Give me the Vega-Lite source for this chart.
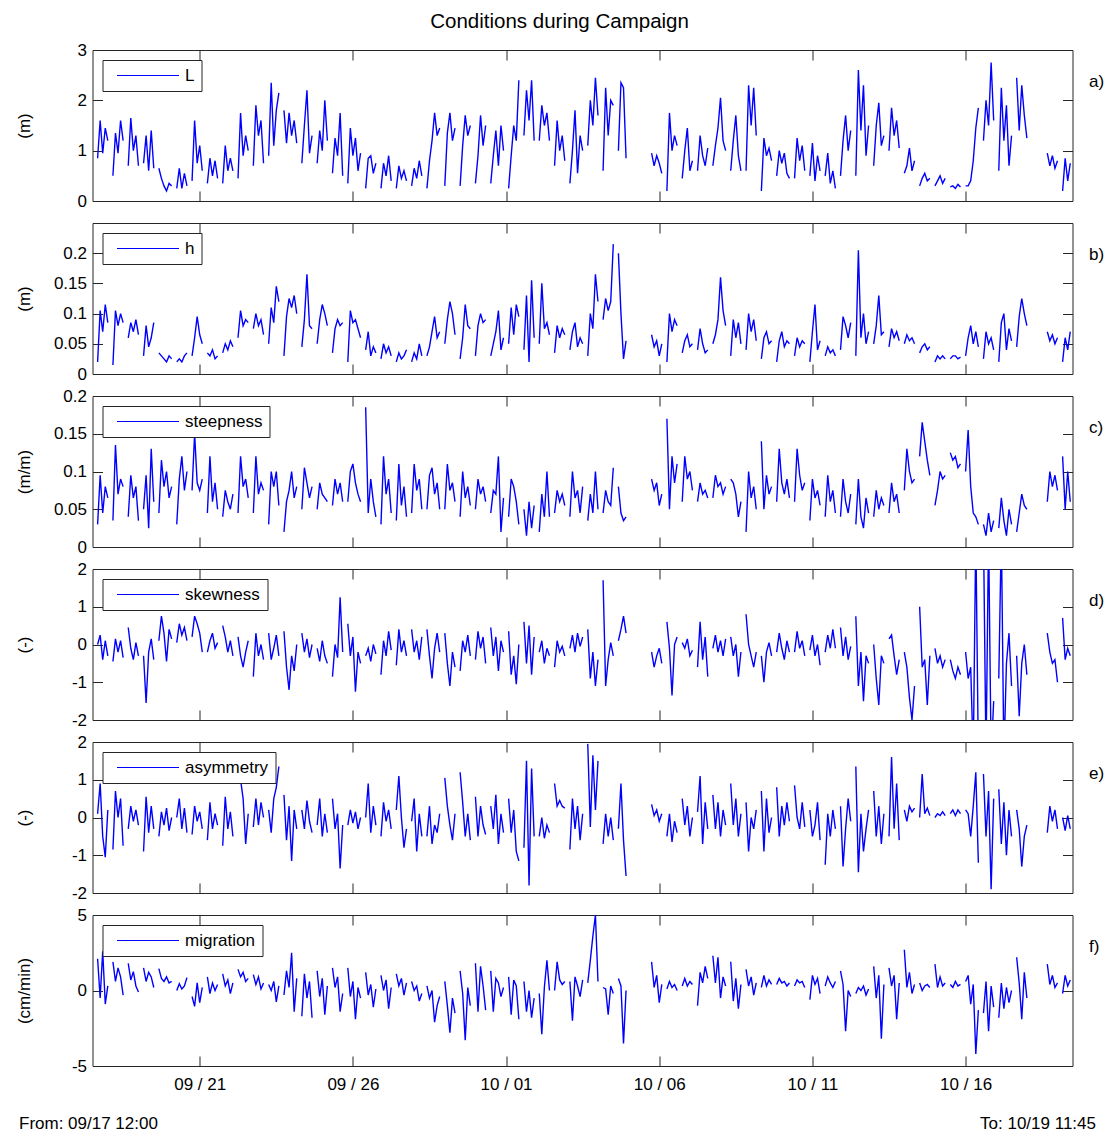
{
  "$schema": "https://vega.github.io/schema/vega-lite/v6.json",
  "background": "white",
  "padding": {"left": 14.5, "top": 12, "right": 8, "bottom": 2},
  "title": {"text": "Conditions during Campaign", "fontSize": 20.5, "fontWeight": "normal", "font": "Liberation Sans", "color": "#000", "anchor": "middle", "offset": 8},
  "datasets": {
    "obs": [
      {"t":"2012-09-17T16:00","L":0.85,"h":0.02,"s":0.03,"k":0,"a":0.1,"m":2.1},
      {"t":"2012-09-17T18:00","L":1.6,"h":0.105,"s":0.095,"k":0.25,"a":0.9,"m":-0.5},
      {"t":"2012-09-17T20:00","L":0.95,"h":0.07,"s":0.045,"k":-0.4,"a":-0.5,"m":2.6},
      {"t":"2012-09-17T22:00","L":1.45,"h":0.115,"s":0.08,"k":0.1,"a":-1.05,"m":-0.9},
      {"t":"2012-09-18T00:00","L":1.2,"h":0.085,"s":0.065,"k":-0.3,"a":0.2,"m":0.3},
      {"t":"2012-09-18T02:00"},
      {"t":"2012-09-18T04:00","L":0.5,"h":0.015,"s":0.035,"k":-0.45,"a":-0.85,"m":1.9},
      {"t":"2012-09-18T06:00","L":1.35,"h":0.105,"s":0.135,"k":0.15,"a":0.7,"m":0.6},
      {"t":"2012-09-18T08:00","L":0.95,"h":0.08,"s":0.07,"k":-0.2,"a":0,"m":1.5},
      {"t":"2012-09-18T10:00","L":1.6,"h":0.1,"s":0.09,"k":0.1,"a":0.5,"m":0.9},
      {"t":"2012-09-18T12:00","L":1.2,"h":0.085,"s":0.08,"k":-0.35,"a":-0.75,"m":-0.3},
      {"t":"2012-09-18T14:00"},
      {"t":"2012-09-18T16:00","L":0.7,"h":0.06,"s":0.04,"k":0.45,"a":-0.3,"m":1.8},
      {"t":"2012-09-18T18:00","L":1.65,"h":0.085,"s":0.095,"k":-0.1,"a":0.3,"m":0.7},
      {"t":"2012-09-18T20:00","L":1.0,"h":0.07,"s":0.065,"k":-0.4,"a":-0.1,"m":1.25},
      {"t":"2012-09-18T22:00","L":1.3,"h":0.09,"s":0.08,"k":0.05,"a":0.2,"m":0.3},
      {"t":"2012-09-19T00:00","L":0.7,"h":0.065,"s":0.035,"k":-0.3,"a":-0.2,"m":-0.1},
      {"t":"2012-09-19T02:00"},
      {"t":"2012-09-19T04:00","L":0.75,"h":0.03,"s":0.05,"k":-0.3,"a":-0.9,"m":1.5},
      {"t":"2012-09-19T06:00","L":1.3,"h":0.08,"s":0.095,"k":-1.55,"a":0.55,"m":0.6},
      {"t":"2012-09-19T08:00","L":0.6,"h":0.045,"s":0.025,"k":-0.2,"a":-0.4,"m":1.2},
      {"t":"2012-09-19T10:00","L":1.4,"h":0.06,"s":0.13,"k":0.15,"a":0.3,"m":0.9},
      {"t":"2012-09-19T12:00","L":0.65,"h":0.085,"s":0.06,"k":-0.4,"a":-0.3,"m":0.2},
      {"t":"2012-09-19T14:00"},
      {"t":"2012-09-19T16:00","L":0.65,"h":0.035,"s":0.045,"k":0.1,"a":-0.5,"m":1.45},
      {"t":"2012-09-19T18:00","L":0.45,"h":0.03,"s":0.115,"k":0.75,"a":0.15,"m":0.8},
      {"t":"2012-09-19T20:00","L":0.3,"h":0.025,"s":0.08,"k":0.3,"a":-0.2,"m":0.6},
      {"t":"2012-09-19T22:00","L":0.2,"h":0.02,"s":0.1,"k":-0.45,"a":0.25,"m":0.9},
      {"t":"2012-09-20T00:00","L":0.35,"h":0.03,"s":0.065,"k":0.4,"a":-0.35,"m":0.5},
      {"t":"2012-09-20T02:00","L":0.3,"h":0.025,"s":0.08,"k":0.15,"a":0,"m":0.6},
      {"t":"2012-09-20T04:00"},
      {"t":"2012-09-20T06:00","L":0.25,"h":0.02,"s":0.03,"k":0.05,"a":0,"m":0},
      {"t":"2012-09-20T08:00","L":0.65,"h":0.025,"s":0.09,"k":0.55,"a":0.5,"m":0.45},
      {"t":"2012-09-20T10:00","L":0.25,"h":0.02,"s":0.12,"k":0.25,"a":-0.3,"m":0.1},
      {"t":"2012-09-20T12:00","L":0.55,"h":0.03,"s":0.075,"k":0.45,"a":0.25,"m":0.3},
      {"t":"2012-09-20T14:00","L":0.3,"h":0.035,"s":0.1,"k":0.1,"a":-0.4,"m":0.85},
      {"t":"2012-09-20T16:00"},
      {"t":"2012-09-20T18:00","L":0.4,"h":0.03,"s":0.075,"k":0.2,"a":-0.45,"m":-0.4},
      {"t":"2012-09-20T20:00","L":1.6,"h":0.06,"s":0.15,"k":0.75,"a":0.3,"m":-1.05},
      {"t":"2012-09-20T22:00","L":0.75,"h":0.095,"s":0.085,"k":0.55,"a":-0.1,"m":0.5},
      {"t":"2012-09-21T00:00","L":1.1,"h":0.065,"s":0.075,"k":0.3,"a":0.15,"m":-0.8},
      {"t":"2012-09-21T02:00","L":0.6,"h":0.05,"s":0.09,"k":-0.2,"a":-0.3,"m":0.2},
      {"t":"2012-09-21T04:00"},
      {"t":"2012-09-21T06:00","L":0.35,"h":0.035,"s":0.045,"k":-0.2,"a":-0.6,"m":0.9},
      {"t":"2012-09-21T08:00","L":0.85,"h":0.03,"s":0.12,"k":0.1,"a":0.4,"m":-0.2},
      {"t":"2012-09-21T10:00","L":0.5,"h":0.04,"s":0.06,"k":0.3,"a":-0.3,"m":0.5},
      {"t":"2012-09-21T12:00","L":0.8,"h":0.025,"s":0.085,"k":-0.1,"a":0.1,"m":0},
      {"t":"2012-09-21T14:00","L":0.45,"h":0.03,"s":0.05,"k":0.05,"a":-0.2,"m":0.4},
      {"t":"2012-09-21T16:00"},
      {"t":"2012-09-21T18:00","L":0.35,"h":0.035,"s":0.04,"k":0.5,"a":-0.75,"m":1.1},
      {"t":"2012-09-21T20:00","L":1.1,"h":0.05,"s":0.075,"k":0.2,"a":0.55,"m":0.3},
      {"t":"2012-09-21T22:00","L":0.6,"h":0.04,"s":0.06,"k":-0.2,"a":-0.3,"m":0.7},
      {"t":"2012-09-22T00:00","L":0.85,"h":0.055,"s":0.05,"k":0.1,"a":0.15,"m":-0.2},
      {"t":"2012-09-22T02:00","L":0.6,"h":0.045,"s":0.07,"k":-0.3,"a":-0.5,"m":0.5},
      {"t":"2012-09-22T04:00"},
      {"t":"2012-09-22T06:00","L":0.45,"h":0.06,"s":0.045,"k":0.2,"a":0.9,"m":1.4},
      {"t":"2012-09-22T08:00","L":1.75,"h":0.105,"s":0.12,"k":-0.3,"a":1.0,"m":0.9},
      {"t":"2012-09-22T10:00","L":0.9,"h":0.08,"s":0.08,"k":-0.6,"a":0.5,"m":1.2},
      {"t":"2012-09-22T12:00","L":1.3,"h":0.09,"s":0.09,"k":-0.2,"a":-0.7,"m":0.6},
      {"t":"2012-09-22T14:00","L":1.0,"h":0.085,"s":0.065,"k":0.1,"a":0.1,"m":0.8},
      {"t":"2012-09-22T16:00"},
      {"t":"2012-09-22T18:00","L":0.7,"h":0.075,"s":0.045,"k":-0.85,"a":-0.25,"m":1.05},
      {"t":"2012-09-22T20:00","L":1.9,"h":0.1,"s":0.12,"k":0.3,"a":0.5,"m":0.4},
      {"t":"2012-09-22T22:00","L":1.3,"h":0.08,"s":0.07,"k":-0.3,"a":-0.2,"m":0.9},
      {"t":"2012-09-23T00:00","L":1.6,"h":0.09,"s":0.085,"k":0,"a":0.4,"m":0.1},
      {"t":"2012-09-23T02:00","L":0.75,"h":0.065,"s":0.075,"k":-0.4,"a":0,"m":0.5},
      {"t":"2012-09-23T04:00"},
      {"t":"2012-09-23T06:00","L":0.9,"h":0.05,"s":0.03,"k":0.3,"a":0.2,"m":0.4},
      {"t":"2012-09-23T08:00","L":2.35,"h":0.11,"s":0.1,"k":-0.4,"a":-0.4,"m":0},
      {"t":"2012-09-23T10:00","L":1.1,"h":0.085,"s":0.08,"k":-0.1,"a":0.5,"m":0.6},
      {"t":"2012-09-23T12:00","L":1.8,"h":0.145,"s":0.1,"k":0.25,"a":0.8,"m":-0.75},
      {"t":"2012-09-23T14:00","L":2.15,"h":0.12,"s":0.055,"k":-0.3,"a":1.35,"m":0.3},
      {"t":"2012-09-23T16:00"},
      {"t":"2012-09-23T18:00","L":1.8,"h":0.03,"s":0.02,"k":0.35,"a":0.6,"m":-0.3},
      {"t":"2012-09-23T20:00","L":1.15,"h":0.095,"s":0.06,"k":-0.6,"a":-0.6,"m":1.3},
      {"t":"2012-09-23T22:00","L":1.75,"h":0.125,"s":0.075,"k":-1.2,"a":0.3,"m":0.2},
      {"t":"2012-09-24T00:00","L":1.3,"h":0.11,"s":0.1,"k":-0.3,"a":-1.15,"m":2.5},
      {"t":"2012-09-24T02:00","L":1.6,"h":0.13,"s":0.065,"k":-0.7,"a":0.2,"m":-1.4},
      {"t":"2012-09-24T04:00","L":1.15,"h":0.1,"s":0.08,"k":0,"a":-0.3,"m":0.8},
      {"t":"2012-09-24T06:00"},
      {"t":"2012-09-24T08:00","L":0.75,"h":0.045,"s":0.05,"k":0.3,"a":0.2,"m":-1.7},
      {"t":"2012-09-24T10:00","L":1.5,"h":0.09,"s":0.105,"k":-0.2,"a":-0.3,"m":1.1},
      {"t":"2012-09-24T12:00","L":2.2,"h":0.165,"s":0.085,"k":0.15,"a":0.45,"m":-0.5},
      {"t":"2012-09-24T14:00","L":0.95,"h":0.08,"s":0.065,"k":-0.35,"a":-0.1,"m":0.6},
      {"t":"2012-09-24T16:00","L":1.3,"h":0.075,"s":0.08,"k":0,"a":-0.4,"m":-1.8},
      {"t":"2012-09-24T18:00"},
      {"t":"2012-09-24T20:00","L":0.75,"h":0.05,"s":0.05,"k":-0.1,"a":-0.2,"m":1.3},
      {"t":"2012-09-24T22:00","L":1.4,"h":0.09,"s":0.085,"k":-0.45,"a":0.5,"m":-0.4},
      {"t":"2012-09-25T00:00","L":1.0,"h":0.115,"s":0.07,"k":0.1,"a":-0.5,"m":0.8},
      {"t":"2012-09-25T02:00","L":2.0,"h":0.1,"s":0.065,"k":-0.3,"a":0.1,"m":-1.6},
      {"t":"2012-09-25T04:00","L":1.2,"h":0.08,"s":0.06,"k":-0.5,"a":-0.4,"m":0.3},
      {"t":"2012-09-25T06:00"},
      {"t":"2012-09-25T08:00","L":0.55,"h":0.035,"s":0.055,"k":-0.85,"a":0.5,"m":1.5},
      {"t":"2012-09-25T10:00","L":1.25,"h":0.075,"s":0.09,"k":0,"a":-0.3,"m":0.2},
      {"t":"2012-09-25T12:00","L":0.9,"h":0.09,"s":0.07,"k":-0.35,"a":0.1,"m":0.9},
      {"t":"2012-09-25T14:00","L":1.75,"h":0.08,"s":0.085,"k":1.25,"a":-1.35,"m":-1.4},
      {"t":"2012-09-25T16:00","L":0.5,"h":0.085,"s":0.06,"k":-0.2,"a":-0.2,"m":-0.2},
      {"t":"2012-09-25T18:00"},
      {"t":"2012-09-25T20:00","L":0.35,"h":0.02,"s":0.06,"k":0.55,"a":-0.2,"m":1.5},
      {"t":"2012-09-25T22:00","L":1.45,"h":0.105,"s":0.1,"k":-0.3,"a":0.2,"m":-0.4},
      {"t":"2012-09-26T00:00","L":0.9,"h":0.085,"s":0.11,"k":0.2,"a":-0.15,"m":0.6},
      {"t":"2012-09-26T02:00","L":1.25,"h":0.09,"s":0.085,"k":-1.25,"a":0.15,"m":-1.9},
      {"t":"2012-09-26T04:00","L":0.6,"h":0.075,"s":0.07,"k":-0.2,"a":-0.3,"m":0.2},
      {"t":"2012-09-26T06:00","L":0.95,"h":0.06,"s":0.06,"k":-0.5,"a":0,"m":-0.5},
      {"t":"2012-09-26T08:00"},
      {"t":"2012-09-26T10:00","L":0.25,"h":0.04,"s":0.185,"k":-0.3,"a":0,"m":1.2},
      {"t":"2012-09-26T12:00","L":0.85,"h":0.07,"s":0.045,"k":-0.1,"a":0.9,"m":-0.3},
      {"t":"2012-09-26T14:00","L":0.9,"h":0.03,"s":0.09,"k":-0.45,"a":-0.4,"m":0.4},
      {"t":"2012-09-26T16:00","L":0.55,"h":0.045,"s":0.06,"k":0,"a":0.3,"m":-1.1},
      {"t":"2012-09-26T18:00","L":0.75,"h":0.035,"s":0.04,"k":-0.25,"a":-0.2,"m":0.1},
      {"t":"2012-09-26T20:00"},
      {"t":"2012-09-26T22:00","L":0.25,"h":0.025,"s":0.03,"k":-0.8,"a":-0.5,"m":1.0},
      {"t":"2012-09-27T00:00","L":0.75,"h":0.05,"s":0.12,"k":0.1,"a":0.4,"m":0},
      {"t":"2012-09-27T02:00","L":0.5,"h":0.035,"s":0.07,"k":-0.3,"a":-0.1,"m":0.7},
      {"t":"2012-09-27T04:00","L":0.9,"h":0.045,"s":0.09,"k":0.35,"a":0.2,"m":-1.2},
      {"t":"2012-09-27T06:00","L":0.4,"h":0.03,"s":0.045,"k":-0.15,"a":-0.3,"m":0.2},
      {"t":"2012-09-27T08:00"},
      {"t":"2012-09-27T10:00","L":0.25,"h":0.02,"s":0.035,"k":-0.55,"a":0.2,"m":1.1},
      {"t":"2012-09-27T12:00","L":0.7,"h":0.035,"s":0.11,"k":0.4,"a":1.1,"m":0.3},
      {"t":"2012-09-27T14:00","L":0.45,"h":0.025,"s":0.055,"k":-0.2,"a":0,"m":0.8},
      {"t":"2012-09-27T16:00","L":0.6,"h":0.03,"s":0.08,"k":0.1,"a":-0.8,"m":-0.3},
      {"t":"2012-09-27T18:00","L":0.4,"h":0.04,"s":0.04,"k":-0.3,"a":-0.3,"m":0.5},
      {"t":"2012-09-27T20:00"},
      {"t":"2012-09-27T22:00","L":0.3,"h":0.02,"s":0.045,"k":0.4,"a":-0.1,"m":0.6},
      {"t":"2012-09-28T00:00","L":0.65,"h":0.035,"s":0.11,"k":-0.2,"a":0.5,"m":0},
      {"t":"2012-09-28T02:00","L":0.45,"h":0.025,"s":0.075,"k":0.1,"a":-0.9,"m":0.3},
      {"t":"2012-09-28T04:00","L":0.8,"h":0.05,"s":0.09,"k":-0.4,"a":0.1,"m":-0.7},
      {"t":"2012-09-28T06:00","L":0.5,"h":0.03,"s":0.05,"k":0.2,"a":-0.5,"m":-0.2},
      {"t":"2012-09-28T08:00"},
      {"t":"2012-09-28T10:00","L":0.25,"h":0.03,"s":0.05,"k":0.4,"a":-0.5,"m":0.3},
      {"t":"2012-09-28T12:00","L":0.8,"h":0.045,"s":0.095,"k":-0.3,"a":0.3,"m":-0.5},
      {"t":"2012-09-28T14:00","L":1.2,"h":0.07,"s":0.105,"k":-0.9,"a":-0.7,"m":0},
      {"t":"2012-09-28T16:00","L":1.75,"h":0.095,"s":0.07,"k":-0.1,"a":-0.2,"m":-2.1},
      {"t":"2012-09-28T18:00","L":1.3,"h":0.06,"s":0.085,"k":0.3,"a":-0.4,"m":-1.0},
      {"t":"2012-09-28T20:00","L":1.45,"h":0.07,"s":0.05,"k":-0.2,"a":0.1,"m":-0.4},
      {"t":"2012-09-28T22:00"},
      {"t":"2012-09-29T00:00","L":0.3,"h":0.05,"s":0.05,"k":0.3,"a":1.05,"m":0.6},
      {"t":"2012-09-29T02:00","L":1.35,"h":0.09,"s":0.11,"k":-0.5,"a":0.3,"m":-1.0},
      {"t":"2012-09-29T04:00","L":1.75,"h":0.12,"s":0.075,"k":-1.1,"a":-0.2,"m":-2.8},
      {"t":"2012-09-29T06:00","L":1.2,"h":0.1,"s":0.085,"k":-0.2,"a":-0.6,"m":-0.5},
      {"t":"2012-09-29T08:00","L":1.45,"h":0.065,"s":0.06,"k":-0.6,"a":0.1,"m":-1.5},
      {"t":"2012-09-29T10:00"},
      {"t":"2012-09-29T12:00","L":0.3,"h":0.025,"s":0.04,"k":-0.7,"a":1.2,"m":1.3},
      {"t":"2012-09-29T14:00","L":1.1,"h":0.06,"s":0.1,"k":0.1,"a":0.4,"m":-0.2},
      {"t":"2012-09-29T16:00","L":1.7,"h":0.115,"s":0.065,"k":-0.2,"a":-0.5,"m":-3.3},
      {"t":"2012-09-29T18:00","L":1.3,"h":0.08,"s":0.08,"k":0.25,"a":0.1,"m":0.2},
      {"t":"2012-09-29T20:00","L":1.5,"h":0.075,"s":0.055,"k":-0.3,"a":-0.6,"m":-1.0},
      {"t":"2012-09-29T22:00"},
      {"t":"2012-09-30T00:00","L":0.35,"h":0.03,"s":0.05,"k":-0.4,"a":0.55,"m":1.8},
      {"t":"2012-09-30T02:00","L":0.9,"h":0.08,"s":0.09,"k":0.35,"a":-0.5,"m":-1.4},
      {"t":"2012-09-30T04:00","L":1.7,"h":0.1,"s":0.07,"k":-0.1,"a":0.3,"m":1.6},
      {"t":"2012-09-30T06:00","L":1.1,"h":0.085,"s":0.08,"k":0.2,"a":-0.2,"m":0.3},
      {"t":"2012-09-30T08:00","L":1.5,"h":0.09,"s":0.06,"k":-0.5,"a":-0.45,"m":-1.3},
      {"t":"2012-09-30T10:00"},
      {"t":"2012-09-30T12:00","L":0.35,"h":0.03,"s":0.045,"k":0.45,"a":0.3,"m":1.3},
      {"t":"2012-09-30T14:00","L":0.9,"h":0.05,"s":0.075,"k":-0.3,"a":-0.3,"m":-1.4},
      {"t":"2012-09-30T16:00","L":1.4,"h":0.07,"s":0.07,"k":0.2,"a":0.6,"m":0.8},
      {"t":"2012-09-30T18:00","L":0.7,"h":0.105,"s":0.12,"k":-0.7,"a":-0.7,"m":0.5},
      {"t":"2012-09-30T20:00","L":1.5,"h":0.04,"s":0.02,"k":0.1,"a":0.1,"m":-0.4},
      {"t":"2012-09-30T22:00","L":1.0,"h":0.06,"s":0.065,"k":-0.2,"a":-0.4,"m":0.2},
      {"t":"2012-10-01T00:00"},
      {"t":"2012-10-01T02:00","L":0.25,"h":0.05,"s":0.04,"k":0.35,"a":0.5,"m":0.9},
      {"t":"2012-10-01T04:00","L":0.9,"h":0.11,"s":0.09,"k":-0.8,"a":-0.4,"m":-1.6},
      {"t":"2012-10-01T06:00","L":1.5,"h":0.065,"s":0.08,"k":-0.3,"a":0.2,"m":0.7},
      {"t":"2012-10-01T08:00","L":1.2,"h":0.115,"s":0.06,"k":-1.05,"a":-0.9,"m":0.3},
      {"t":"2012-10-01T10:00","L":2.4,"h":0.095,"s":0.03,"k":0,"a":-1.15,"m":-1.9},
      {"t":"2012-10-01T12:00"},
      {"t":"2012-10-01T14:00","L":1.3,"h":0.04,"s":0.05,"k":0.6,"a":-0.8,"m":0.6},
      {"t":"2012-10-01T16:00","L":2.2,"h":0.13,"s":0.015,"k":-0.5,"a":1.5,"m":-1.4},
      {"t":"2012-10-01T18:00","L":1.6,"h":0.02,"s":0.06,"k":0.5,"a":-1.8,"m":0},
      {"t":"2012-10-01T20:00","L":2.4,"h":0.155,"s":0.025,"k":-0.8,"a":1.3,"m":-1.8},
      {"t":"2012-10-01T22:00","L":1.2,"h":0.06,"s":0.055,"k":0.2,"a":-0.5,"m":-0.5},
      {"t":"2012-10-02T00:00"},
      {"t":"2012-10-02T02:00","L":1.2,"h":0.05,"s":0.02,"k":-0.2,"a":-0.5,"m":-0.2},
      {"t":"2012-10-02T04:00","L":1.9,"h":0.15,"s":0.07,"k":0.1,"a":0,"m":-2.9},
      {"t":"2012-10-02T06:00","L":1.5,"h":0.075,"s":0.04,"k":-0.5,"a":-0.55,"m":0.2},
      {"t":"2012-10-02T08:00","L":1.75,"h":0.085,"s":0.1,"k":-0.1,"a":-0.2,"m":2.0},
      {"t":"2012-10-02T10:00","L":1.2,"h":0.065,"s":0.04,"k":-0.3,"a":-0.4,"m":0},
      {"t":"2012-10-02T12:00"},
      {"t":"2012-10-02T14:00","L":0.7,"h":0.035,"s":0.045,"k":-0.6,"a":0.9,"m":0},
      {"t":"2012-10-02T16:00","L":1.6,"h":0.08,"s":0.075,"k":0.1,"a":0.3,"m":1.9},
      {"t":"2012-10-02T18:00","L":1.0,"h":0.06,"s":0.06,"k":-0.2,"a":0.45,"m":0.7},
      {"t":"2012-10-02T20:00","L":1.3,"h":0.075,"s":0.07,"k":-0.05,"a":0.3,"m":0.4},
      {"t":"2012-10-02T22:00","L":0.8,"h":0.065,"s":0.055,"k":-0.3,"a":0.25,"m":0.6},
      {"t":"2012-10-03T00:00"},
      {"t":"2012-10-03T02:00","L":0.35,"h":0.04,"s":0.04,"k":-0.1,"a":-0.85,"m":0.6},
      {"t":"2012-10-03T04:00","L":1.0,"h":0.07,"s":0.1,"k":0.25,"a":0.5,"m":-2.0},
      {"t":"2012-10-03T06:00","L":1.8,"h":0.085,"s":0.065,"k":-0.2,"a":-0.3,"m":0.9},
      {"t":"2012-10-03T08:00","L":0.55,"h":0.045,"s":0.075,"k":0.3,"a":0.3,"m":0.3},
      {"t":"2012-10-03T10:00","L":1.3,"h":0.06,"s":0.045,"k":-0.05,"a":-0.6,"m":-0.4},
      {"t":"2012-10-03T12:00","L":1.0,"h":0.05,"s":0.08,"k":0.2,"a":0.1,"m":0.7},
      {"t":"2012-10-03T14:00"},
      {"t":"2012-10-03T16:00","L":1.1,"h":0.03,"s":0.035,"k":0.4,"a":1.95,"m":0.5},
      {"t":"2012-10-03T18:00","L":2.0,"h":0.1,"s":0.07,"k":-0.9,"a":-0.25,"m":2.0},
      {"t":"2012-10-03T20:00","L":1.5,"h":0.075,"s":0.045,"k":-0.2,"a":1.65,"m":3.6},
      {"t":"2012-10-03T22:00","L":2.45,"h":0.165,"s":0.1,"k":-1.1,"a":0.2,"m":5.0},
      {"t":"2012-10-04T00:00","L":1.7,"h":0.12,"s":0.05,"k":-0.4,"a":1.5,"m":0.6},
      {"t":"2012-10-04T02:00"},
      {"t":"2012-10-04T04:00","L":0.6,"h":0.09,"s":0.045,"k":1.7,"a":-0.7,"m":0.2},
      {"t":"2012-10-04T06:00","L":2.25,"h":0.125,"s":0.075,"k":-1.1,"a":0.1,"m":0.1},
      {"t":"2012-10-04T08:00","L":1.3,"h":0.105,"s":0.06,"k":-0.4,"a":-0.5,"m":-1.6},
      {"t":"2012-10-04T10:00","L":2.0,"h":0.12,"s":0.055,"k":0.05,"a":0,"m":0.3},
      {"t":"2012-10-04T12:00","L":1.9,"h":0.215,"s":0.105,"k":-0.3,"a":-0.6,"m":-0.2},
      {"t":"2012-10-04T14:00"},
      {"t":"2012-10-04T16:00","L":1.0,"h":0.2,"s":0.08,"k":0.1,"a":-0.3,"m":0.8},
      {"t":"2012-10-04T18:00","L":2.35,"h":0.1,"s":0.045,"k":0.4,"a":0.9,"m":0.3},
      {"t":"2012-10-04T20:00","L":2.25,"h":0.025,"s":0.035,"k":0.75,"a":-0.6,"m":-3.5},
      {"t":"2012-10-04T22:00","L":0.85,"h":0.055,"s":0.04,"k":0.3,"a":-1.55,"m":0},
      {"t":"2012-10-05T00:00"},
      {"t":"2012-10-05T18:00","L":0.95,"h":0.065,"s":0.09,"k":-0.2,"a":0.35,"m":1.9},
      {"t":"2012-10-05T20:00","L":0.7,"h":0.045,"s":0.075,"k":-0.6,"a":0.05,"m":0.2},
      {"t":"2012-10-05T22:00","L":0.9,"h":0.055,"s":0.085,"k":-0.3,"a":0.2,"m":1.0},
      {"t":"2012-10-06T00:00","L":0.75,"h":0.03,"s":0.055,"k":-0.1,"a":-0.1,"m":-0.8},
      {"t":"2012-10-06T02:00","L":0.55,"h":0.05,"s":0.07,"k":-0.5,"a":0.1,"m":0.4},
      {"t":"2012-10-06T04:00"},
      {"t":"2012-10-06T06:00","L":0.2,"h":0.02,"s":0.17,"k":0.6,"a":-0.5,"m":0.1},
      {"t":"2012-10-06T08:00","L":1.75,"h":0.1,"s":0.05,"k":-0.1,"a":0.1,"m":0.6},
      {"t":"2012-10-06T10:00","L":1.0,"h":0.07,"s":0.12,"k":-1.35,"a":-0.65,"m":0.2},
      {"t":"2012-10-06T12:00","L":1.3,"h":0.09,"s":0.085,"k":0,"a":-0.1,"m":0.4},
      {"t":"2012-10-06T14:00","L":1.1,"h":0.08,"s":0.11,"k":0.2,"a":-0.4,"m":0},
      {"t":"2012-10-06T16:00"},
      {"t":"2012-10-06T18:00","L":0.45,"h":0.035,"s":0.06,"k":0.05,"a":0.5,"m":0.3},
      {"t":"2012-10-06T20:00","L":1.0,"h":0.055,"s":0.12,"k":-0.1,"a":-0.2,"m":0.8},
      {"t":"2012-10-06T22:00","L":1.45,"h":0.065,"s":0.09,"k":0.15,"a":0.3,"m":0.3},
      {"t":"2012-10-07T00:00","L":0.6,"h":0.045,"s":0.1,"k":-0.3,"a":-0.5,"m":0.6},
      {"t":"2012-10-07T02:00","L":0.8,"h":0.05,"s":0.075,"k":-0.15,"a":0,"m":0.4},
      {"t":"2012-10-07T04:00"},
      {"t":"2012-10-07T06:00","L":0.6,"h":0.04,"s":0.06,"k":-0.6,"a":0.15,"m":-1.0},
      {"t":"2012-10-07T08:00","L":1.3,"h":0.075,"s":0.085,"k":0.6,"a":1.1,"m":1.2},
      {"t":"2012-10-07T10:00","L":0.9,"h":0.05,"s":0.07,"k":-0.4,"a":-0.7,"m":0.5},
      {"t":"2012-10-07T12:00","L":0.7,"h":0.035,"s":0.075,"k":0.2,"a":0.4,"m":1.6},
      {"t":"2012-10-07T14:00","L":1.05,"h":0.04,"s":0.065,"k":-0.85,"a":-0.3,"m":0.8},
      {"t":"2012-10-07T16:00"},
      {"t":"2012-10-07T18:00","L":0.7,"h":0.05,"s":0.065,"k":-0.1,"a":0.6,"m":2.3},
      {"t":"2012-10-07T20:00","L":1.1,"h":0.065,"s":0.095,"k":0.25,"a":-0.3,"m":0.5},
      {"t":"2012-10-07T22:00","L":1.45,"h":0.09,"s":0.08,"k":-0.2,"a":0.4,"m":2.2},
      {"t":"2012-10-08T00:00","L":2.05,"h":0.16,"s":0.085,"k":0.1,"a":-0.5,"m":-0.5},
      {"t":"2012-10-08T02:00","L":1.2,"h":0.105,"s":0.07,"k":-0.3,"a":0.2,"m":0.9},
      {"t":"2012-10-08T04:00","L":1.0,"h":0.08,"s":0.08,"k":0.15,"a":-0.2,"m":0.3},
      {"t":"2012-10-08T06:00"},
      {"t":"2012-10-08T08:00","L":0.6,"h":0.03,"s":0.09,"k":0.2,"a":0.9,"m":1.9},
      {"t":"2012-10-08T10:00","L":1.2,"h":0.09,"s":0.085,"k":-0.3,"a":-0.2,"m":-0.7},
      {"t":"2012-10-08T12:00","L":1.7,"h":0.06,"s":0.07,"k":0,"a":0.5,"m":0.8},
      {"t":"2012-10-08T14:00","L":0.9,"h":0.085,"s":0.04,"k":-0.85,"a":-0.5,"m":-1.2},
      {"t":"2012-10-08T16:00","L":0.6,"h":0.05,"s":0.06,"k":-0.2,"a":0.1,"m":0.4},
      {"t":"2012-10-08T18:00"},
      {"t":"2012-10-08T20:00","L":0.6,"h":0.04,"s":0.02,"k":0.8,"a":0.4,"m":1.4},
      {"t":"2012-10-08T22:00","L":2.3,"h":0.1,"s":0.1,"k":0,"a":-0.9,"m":0.3},
      {"t":"2012-10-09T00:00","L":1.5,"h":0.07,"s":0.065,"k":-0.3,"a":0,"m":0.9},
      {"t":"2012-10-09T02:00","L":2.25,"h":0.09,"s":0.08,"k":-0.6,"a":-0.3,"m":-0.3},
      {"t":"2012-10-09T04:00","L":1.3,"h":0.055,"s":0.05,"k":-0.2,"a":0.2,"m":0.5},
      {"t":"2012-10-09T06:00"},
      {"t":"2012-10-09T08:00","L":0.2,"h":0.025,"s":0.14,"k":-0.3,"a":0.7,"m":0.2},
      {"t":"2012-10-09T10:00","L":1.25,"h":0.06,"s":0.05,"k":-1.0,"a":-0.9,"m":1.0},
      {"t":"2012-10-09T12:00","L":0.9,"h":0.07,"s":0.095,"k":-0.2,"a":0.5,"m":0.3},
      {"t":"2012-10-09T14:00","L":1.05,"h":0.05,"s":0.07,"k":0.05,"a":-0.4,"m":0.7},
      {"t":"2012-10-09T16:00","L":0.8,"h":0.055,"s":0.08,"k":-0.3,"a":0,"m":0.4},
      {"t":"2012-10-09T18:00"},
      {"t":"2012-10-09T20:00","L":0.5,"h":0.02,"s":0.06,"k":-0.2,"a":0.8,"m":0.4},
      {"t":"2012-10-09T22:00","L":1.0,"h":0.055,"s":0.13,"k":0.3,"a":-0.5,"m":0.8},
      {"t":"2012-10-10T00:00","L":0.75,"h":0.07,"s":0.085,"k":-0.1,"a":0.3,"m":0.5},
      {"t":"2012-10-10T02:00","L":0.95,"h":0.045,"s":0.07,"k":-0.4,"a":-0.2,"m":0.6},
      {"t":"2012-10-10T04:00","L":0.55,"h":0.055,"s":0.09,"k":0.1,"a":0.4,"m":0.3},
      {"t":"2012-10-10T06:00","L":0.45,"h":0.05,"s":0.065,"k":-0.2,"a":-0.1,"m":0.5},
      {"t":"2012-10-10T08:00"},
      {"t":"2012-10-10T10:00","L":0.45,"h":0.03,"s":0.06,"k":-0.2,"a":0.85,"m":0.3},
      {"t":"2012-10-10T12:00","L":1.25,"h":0.06,"s":0.13,"k":0.35,"a":0,"m":0.7},
      {"t":"2012-10-10T14:00","L":0.8,"h":0.045,"s":0.095,"k":-0.1,"a":-0.3,"m":0.5},
      {"t":"2012-10-10T16:00","L":1.1,"h":0.055,"s":0.075,"k":0.1,"a":0.4,"m":0.6},
      {"t":"2012-10-10T18:00","L":0.6,"h":0.05,"s":0.085,"k":-0.3,"a":-0.25,"m":0.2},
      {"t":"2012-10-10T20:00"},
      {"t":"2012-10-10T22:00","L":0.5,"h":0.02,"s":0.035,"k":-0.15,"a":0.2,"m":-0.6},
      {"t":"2012-10-11T00:00","L":1.15,"h":0.07,"s":0.09,"k":0.25,"a":-0.5,"m":1.0},
      {"t":"2012-10-11T02:00","L":0.4,"h":0.115,"s":0.065,"k":-0.3,"a":-0.2,"m":0.4},
      {"t":"2012-10-11T04:00","L":0.9,"h":0.04,"s":0.075,"k":0,"a":0.4,"m":0.8},
      {"t":"2012-10-11T06:00","L":0.6,"h":0.055,"s":0.055,"k":-0.55,"a":-0.6,"m":-0.2},
      {"t":"2012-10-11T08:00"},
      {"t":"2012-10-11T10:00","L":0.5,"h":0.03,"s":0.04,"k":-0.2,"a":-1.25,"m":0.3},
      {"t":"2012-10-11T12:00","L":0.95,"h":0.045,"s":0.095,"k":0.25,"a":0.1,"m":0.9},
      {"t":"2012-10-11T14:00","L":0.35,"h":0.035,"s":0.06,"k":-0.1,"a":-0.5,"m":0.5},
      {"t":"2012-10-11T16:00","L":0.6,"h":0.04,"s":0.075,"k":0.4,"a":0.2,"m":0.2},
      {"t":"2012-10-11T18:00","L":0.25,"h":0.03,"s":0.045,"k":-0.1,"a":-0.3,"m":0.6},
      {"t":"2012-10-11T20:00"},
      {"t":"2012-10-11T22:00","L":0.5,"h":0.04,"s":0.04,"k":0.45,"a":0.3,"m":1.3},
      {"t":"2012-10-12T00:00","L":1.2,"h":0.095,"s":0.09,"k":-0.3,"a":-1.3,"m":0.4},
      {"t":"2012-10-12T02:00","L":1.7,"h":0.08,"s":0.06,"k":0.2,"a":-0.3,"m":-2.7},
      {"t":"2012-10-12T04:00","L":1.0,"h":0.06,"s":0.045,"k":-0.4,"a":0.5,"m":0},
      {"t":"2012-10-12T06:00","L":1.4,"h":0.085,"s":0.07,"k":-0.05,"a":-0.1,"m":-0.4},
      {"t":"2012-10-12T08:00"},
      {"t":"2012-10-12T10:00","L":0.5,"h":0.03,"s":0.03,"k":0.75,"a":1.35,"m":-0.2},
      {"t":"2012-10-12T12:00","L":2.6,"h":0.205,"s":0.09,"k":-1.1,"a":-1.45,"m":0.2},
      {"t":"2012-10-12T14:00","L":1.4,"h":0.06,"s":0.04,"k":-0.2,"a":0.1,"m":0},
      {"t":"2012-10-12T16:00","L":2.3,"h":0.1,"s":0.025,"k":-1.5,"a":-0.9,"m":0.3},
      {"t":"2012-10-12T18:00","L":0.9,"h":0.05,"s":0.065,"k":-0.3,"a":-0.3,"m":-0.3},
      {"t":"2012-10-12T20:00","L":1.5,"h":0.07,"s":0.045,"k":-0.5,"a":0.2,"m":0.1},
      {"t":"2012-10-12T22:00"},
      {"t":"2012-10-13T00:00","L":0.7,"h":0.05,"s":0.04,"k":0,"a":0.7,"m":1.6},
      {"t":"2012-10-13T02:00","L":1.5,"h":0.08,"s":0.075,"k":-0.9,"a":-0.5,"m":-0.5},
      {"t":"2012-10-13T04:00","L":1.95,"h":0.13,"s":0.05,"k":-1.6,"a":0.3,"m":1.0},
      {"t":"2012-10-13T06:00","L":1.1,"h":0.065,"s":0.065,"k":-0.3,"a":-0.7,"m":-3.2},
      {"t":"2012-10-13T08:00","L":1.3,"h":0.07,"s":0.055,"k":-0.5,"a":0.1,"m":0.4},
      {"t":"2012-10-13T10:00"},
      {"t":"2012-10-13T12:00","L":1.0,"h":0.045,"s":0.045,"k":0.15,"a":-0.5,"m":1.5},
      {"t":"2012-10-13T14:00","L":1.85,"h":0.075,"s":0.085,"k":0.25,"a":1.6,"m":0.3},
      {"t":"2012-10-13T16:00","L":1.3,"h":0.06,"s":0.06,"k":-0.3,"a":-0.3,"m":1.0},
      {"t":"2012-10-13T18:00","L":1.6,"h":0.07,"s":0.07,"k":-0.8,"a":0.9,"m":-1.9},
      {"t":"2012-10-13T20:00","L":1.05,"h":0.055,"s":0.045,"k":-0.4,"a":-0.6,"m":0.5},
      {"t":"2012-10-13T22:00"},
      {"t":"2012-10-14T00:00","L":0.55,"h":0.05,"s":0.075,"k":-0.2,"a":0.2,"m":2.7},
      {"t":"2012-10-14T02:00","L":0.7,"h":0.065,"s":0.13,"k":-0.6,"a":-0.1,"m":0.2},
      {"t":"2012-10-14T04:00","L":1.05,"h":0.055,"s":0.1,"k":-1.4,"a":0.3,"m":1.2},
      {"t":"2012-10-14T06:00","L":0.6,"h":0.06,"s":0.085,"k":-2.0,"a":0.15,"m":-0.2},
      {"t":"2012-10-14T08:00","L":0.8,"h":0.05,"s":0.09,"k":-1.1,"a":0.25,"m":0.4},
      {"t":"2012-10-14T10:00"},
      {"t":"2012-10-14T12:00","L":0.3,"h":0.035,"s":0.12,"k":1.0,"a":0,"m":0.5},
      {"t":"2012-10-14T14:00","L":0.45,"h":0.045,"s":0.165,"k":-0.6,"a":1.15,"m":0},
      {"t":"2012-10-14T16:00","L":0.55,"h":0.05,"s":0.14,"k":-0.4,"a":0.1,"m":0.3},
      {"t":"2012-10-14T18:00","L":0.4,"h":0.04,"s":0.115,"k":-1.6,"a":0.25,"m":0.4},
      {"t":"2012-10-14T20:00","L":0.45,"h":0.045,"s":0.095,"k":-0.3,"a":0.05,"m":0.2},
      {"t":"2012-10-14T22:00"},
      {"t":"2012-10-15T00:00","L":0.3,"h":0.02,"s":0.055,"k":-0.1,"a":0,"m":1.75},
      {"t":"2012-10-15T02:00","L":0.4,"h":0.03,"s":0.075,"k":-0.5,"a":0.1,"m":0.2},
      {"t":"2012-10-15T04:00","L":0.5,"h":0.025,"s":0.1,"k":-0.3,"a":0.05,"m":0.9},
      {"t":"2012-10-15T06:00","L":0.35,"h":0.03,"s":0.09,"k":-0.6,"a":0.15,"m":0.3},
      {"t":"2012-10-15T08:00","L":0.45,"h":0.025,"s":0.095,"k":-0.4,"a":0.05,"m":0.5},
      {"t":"2012-10-15T10:00"},
      {"t":"2012-10-15T12:00","L":0.28,"h":0.025,"s":0.125,"k":-0.4,"a":0.1,"m":0.4},
      {"t":"2012-10-15T14:00","L":0.3,"h":0.03,"s":0.115,"k":-0.7,"a":0.2,"m":0.2},
      {"t":"2012-10-15T16:00","L":0.25,"h":0.03,"s":0.12,"k":-0.9,"a":0.05,"m":0.6},
      {"t":"2012-10-15T18:00","L":0.33,"h":0.025,"s":0.105,"k":-0.6,"a":0.2,"m":0.3},
      {"t":"2012-10-15T20:00","L":0.28,"h":0.028,"s":0.11,"k":-0.8,"a":0.1,"m":0.4},
      {"t":"2012-10-15T22:00"},
      {"t":"2012-10-16T00:00","L":0.3,"h":0.03,"s":0.1,"k":-0.2,"a":0.2,"m":0.6},
      {"t":"2012-10-16T02:00","L":0.3,"h":0.06,"s":0.155,"k":-0.9,"a":0.1,"m":1.0},
      {"t":"2012-10-16T04:00","L":0.4,"h":0.08,"s":0.08,"k":-0.6,"a":-0.5,"m":-0.9},
      {"t":"2012-10-16T06:00","L":0.8,"h":0.05,"s":0.045,"k":-3,"a":0.3,"m":0.4},
      {"t":"2012-10-16T08:00","L":1.45,"h":0.07,"s":0.04,"k":3,"a":1.2,"m":-4.2},
      {"t":"2012-10-16T10:00","L":1.85,"h":0.045,"s":0.03,"k":-3,"a":-1.2,"m":-1.3},
      {"t":"2012-10-16T12:00"},
      {"t":"2012-10-16T14:00","L":1.2,"h":0.025,"s":0.03,"k":3,"a":1.15,"m":-1.5},
      {"t":"2012-10-16T16:00","L":2.0,"h":0.07,"s":0.015,"k":-3,"a":-0.5,"m":0.6},
      {"t":"2012-10-16T18:00","L":1.5,"h":0.05,"s":0.045,"k":3,"a":0.7,"m":-2.7},
      {"t":"2012-10-16T20:00","L":2.75,"h":0.06,"s":0.02,"k":-3,"a":-1.9,"m":0.3},
      {"t":"2012-10-16T22:00","L":1.6,"h":0.04,"s":0.035,"k":-1.5,"a":0.5,"m":-1.1},
      {"t":"2012-10-17T00:00"},
      {"t":"2012-10-17T02:00","L":0.6,"h":0.02,"s":0.025,"k":-0.9,"a":0.75,"m":-1.8},
      {"t":"2012-10-17T04:00","L":2.25,"h":0.085,"s":0.065,"k":3,"a":-0.7,"m":0.5},
      {"t":"2012-10-17T06:00","L":1.2,"h":0.1,"s":0.035,"k":-3,"a":0.4,"m":-1.2},
      {"t":"2012-10-17T08:00","L":1.9,"h":0.04,"s":0.015,"k":-0.5,"a":-1.0,"m":0.2},
      {"t":"2012-10-17T10:00","L":0.7,"h":0.075,"s":0.05,"k":0.3,"a":0.2,"m":-0.8},
      {"t":"2012-10-17T12:00","L":1.3,"h":0.055,"s":0.03,"k":-1.1,"a":-0.5,"m":0},
      {"t":"2012-10-17T14:00"},
      {"t":"2012-10-17T16:00","L":2.45,"h":0.045,"s":0.02,"k":-0.3,"a":0.2,"m":2.2},
      {"t":"2012-10-17T18:00","L":1.4,"h":0.095,"s":0.045,"k":-1.9,"a":-0.3,"m":0.5},
      {"t":"2012-10-17T20:00","L":2.3,"h":0.125,"s":0.07,"k":-0.5,"a":-1.3,"m":-1.9},
      {"t":"2012-10-17T22:00","L":1.7,"h":0.1,"s":0.055,"k":0,"a":-0.5,"m":1.2},
      {"t":"2012-10-18T00:00","L":1.25,"h":0.08,"s":0.05,"k":-0.8,"a":-0.2,"m":-0.5},
      {"t":"2012-10-18T02:00"},
      {"t":"2012-10-18T16:00","L":0.95,"h":0.07,"s":0.06,"k":0.3,"a":-0.4,"m":1.75},
      {"t":"2012-10-18T18:00","L":0.7,"h":0.055,"s":0.1,"k":-0.2,"a":0.3,"m":0.4},
      {"t":"2012-10-18T20:00","L":0.9,"h":0.065,"s":0.08,"k":-0.5,"a":-0.1,"m":1.0},
      {"t":"2012-10-18T22:00","L":0.65,"h":0.05,"s":0.095,"k":-0.4,"a":0.2,"m":0.2},
      {"t":"2012-10-19T00:00","L":0.8,"h":0.06,"s":0.075,"k":-1.0,"a":-0.3,"m":0.5},
      {"t":"2012-10-19T02:00"},
      {"t":"2012-10-19T04:00","L":0.2,"h":0.02,"s":0.12,"k":0.7,"a":0,"m":-0.2},
      {"t":"2012-10-19T06:00","L":0.85,"h":0.06,"s":0.05,"k":-0.4,"a":-0.35,"m":1.0},
      {"t":"2012-10-19T08:00","L":0.4,"h":0.04,"s":0.1,"k":-0.1,"a":0.05,"m":0.3},
      {"t":"2012-10-19T10:00","L":0.75,"h":0.07,"s":0.06,"k":-0.3,"a":-0.3,"m":0.7}
    ]
  },
  "data": {"name": "obs"},
  "spacing": 22,
  "bounds": "flush",
  "resolve": {"scale": {"color": "independent"}, "legend": {"color": "independent"}},
  "vconcat": [
    {
      "width": 980, "height": 151,
      "resolve": {"axis": {"x": "independent", "y": "independent"}},
      "layer": [
        {
          "mark": {"type": "line", "strokeWidth": 1.4, "clip": true, "invalid": "break-paths-show-domains"},
          "encoding": {
            "x": {"field": "t", "type": "temporal", "scale": {"domain": [{"year": 2012, "month": 9, "date": 17, "hours": 12}, {"year": 2012, "month": 10, "date": 19, "hours": 11, "minutes": 45}], "nice": false},
                  "axis": {"orient": "bottom", "labels": false, "title": null, "values": [{"year": 2012, "month": 9, "date": 21}, {"year": 2012, "month": 9, "date": 26}, {"year": 2012, "month": 10, "date": 1}, {"year": 2012, "month": 10, "date": 6}, {"year": 2012, "month": 10, "date": 11}, {"year": 2012, "month": 10, "date": 16}]}},
            "y": {"field": "L", "type": "quantitative", "scale": {"domain": [0, 3], "nice": false, "zero": false},
                  "axis": {"values": [0, 1, 2, 3], "title": "(m)"}},
            "color": {"datum": "L", "scale": {"range": ["#0000ff"]}, "legend": {"title": null}}
          }
        },
        {
          "mark": {"type": "line", "opacity": 0, "invalid": "break-paths-show-domains"},
          "encoding": {
            "x": {"field": "t", "type": "temporal", "axis": {"orient": "top", "labels": false, "title": null, "values": [{"year": 2012, "month": 9, "date": 21}, {"year": 2012, "month": 9, "date": 26}, {"year": 2012, "month": 10, "date": 1}, {"year": 2012, "month": 10, "date": 6}, {"year": 2012, "month": 10, "date": 11}, {"year": 2012, "month": 10, "date": 16}]}},
            "y": {"field": "L", "type": "quantitative", "axis": {"orient": "right", "labels": false, "values": [0, 1, 2, 3], "title": "a)", "titleAngle": 0, "titleX": 16, "titleY": 31, "titleAlign": "left", "titleBaseline": "middle"}}
          }
        }
      ]
    },
    {
      "width": 980, "height": 151,
      "resolve": {"axis": {"x": "independent", "y": "independent"}},
      "layer": [
        {
          "mark": {"type": "line", "strokeWidth": 1.4, "clip": true, "invalid": "break-paths-show-domains"},
          "encoding": {
            "x": {"field": "t", "type": "temporal", "scale": {"domain": [{"year": 2012, "month": 9, "date": 17, "hours": 12}, {"year": 2012, "month": 10, "date": 19, "hours": 11, "minutes": 45}], "nice": false},
                  "axis": {"orient": "bottom", "labels": false, "title": null, "values": [{"year": 2012, "month": 9, "date": 21}, {"year": 2012, "month": 9, "date": 26}, {"year": 2012, "month": 10, "date": 1}, {"year": 2012, "month": 10, "date": 6}, {"year": 2012, "month": 10, "date": 11}, {"year": 2012, "month": 10, "date": 16}]}},
            "y": {"field": "h", "type": "quantitative", "scale": {"domain": [0, 0.25], "nice": false, "zero": false},
                  "axis": {"values": [0, 0.05, 0.1, 0.15, 0.2], "title": "(m)"}},
            "color": {"datum": "h", "scale": {"range": ["#0000ff"]}, "legend": {"title": null}}
          }
        },
        {
          "mark": {"type": "line", "opacity": 0, "invalid": "break-paths-show-domains"},
          "encoding": {
            "x": {"field": "t", "type": "temporal", "axis": {"orient": "top", "labels": false, "title": null, "values": [{"year": 2012, "month": 9, "date": 21}, {"year": 2012, "month": 9, "date": 26}, {"year": 2012, "month": 10, "date": 1}, {"year": 2012, "month": 10, "date": 6}, {"year": 2012, "month": 10, "date": 11}, {"year": 2012, "month": 10, "date": 16}]}},
            "y": {"field": "h", "type": "quantitative", "axis": {"orient": "right", "labels": false, "values": [0, 0.05, 0.1, 0.15, 0.2], "title": "b)", "titleAngle": 0, "titleX": 16, "titleY": 31, "titleAlign": "left", "titleBaseline": "middle"}}
          }
        }
      ]
    },
    {
      "width": 980, "height": 151,
      "resolve": {"axis": {"x": "independent", "y": "independent"}},
      "layer": [
        {
          "mark": {"type": "line", "strokeWidth": 1.4, "clip": true, "invalid": "break-paths-show-domains"},
          "encoding": {
            "x": {"field": "t", "type": "temporal", "scale": {"domain": [{"year": 2012, "month": 9, "date": 17, "hours": 12}, {"year": 2012, "month": 10, "date": 19, "hours": 11, "minutes": 45}], "nice": false},
                  "axis": {"orient": "bottom", "labels": false, "title": null, "values": [{"year": 2012, "month": 9, "date": 21}, {"year": 2012, "month": 9, "date": 26}, {"year": 2012, "month": 10, "date": 1}, {"year": 2012, "month": 10, "date": 6}, {"year": 2012, "month": 10, "date": 11}, {"year": 2012, "month": 10, "date": 16}]}},
            "y": {"field": "s", "type": "quantitative", "scale": {"domain": [0, 0.2], "nice": false, "zero": false},
                  "axis": {"values": [0, 0.05, 0.1, 0.15, 0.2], "title": "(m/m)"}},
            "color": {"datum": "steepness", "scale": {"range": ["#0000ff"]}, "legend": {"title": null}}
          }
        },
        {
          "mark": {"type": "line", "opacity": 0, "invalid": "break-paths-show-domains"},
          "encoding": {
            "x": {"field": "t", "type": "temporal", "axis": {"orient": "top", "labels": false, "title": null, "values": [{"year": 2012, "month": 9, "date": 21}, {"year": 2012, "month": 9, "date": 26}, {"year": 2012, "month": 10, "date": 1}, {"year": 2012, "month": 10, "date": 6}, {"year": 2012, "month": 10, "date": 11}, {"year": 2012, "month": 10, "date": 16}]}},
            "y": {"field": "s", "type": "quantitative", "axis": {"orient": "right", "labels": false, "values": [0, 0.05, 0.1, 0.15, 0.2], "title": "c)", "titleAngle": 0, "titleX": 16, "titleY": 31, "titleAlign": "left", "titleBaseline": "middle"}}
          }
        }
      ]
    },
    {
      "width": 980, "height": 151,
      "resolve": {"axis": {"x": "independent", "y": "independent"}},
      "layer": [
        {
          "mark": {"type": "line", "strokeWidth": 1.4, "clip": true, "invalid": "break-paths-show-domains"},
          "encoding": {
            "x": {"field": "t", "type": "temporal", "scale": {"domain": [{"year": 2012, "month": 9, "date": 17, "hours": 12}, {"year": 2012, "month": 10, "date": 19, "hours": 11, "minutes": 45}], "nice": false},
                  "axis": {"orient": "bottom", "labels": false, "title": null, "values": [{"year": 2012, "month": 9, "date": 21}, {"year": 2012, "month": 9, "date": 26}, {"year": 2012, "month": 10, "date": 1}, {"year": 2012, "month": 10, "date": 6}, {"year": 2012, "month": 10, "date": 11}, {"year": 2012, "month": 10, "date": 16}]}},
            "y": {"field": "k", "type": "quantitative", "scale": {"domain": [-2, 2], "nice": false, "zero": false},
                  "axis": {"values": [-2, -1, 0, 1, 2], "title": "(-)"}},
            "color": {"datum": "skewness", "scale": {"range": ["#0000ff"]}, "legend": {"title": null}}
          }
        },
        {
          "mark": {"type": "line", "opacity": 0, "invalid": "break-paths-show-domains"},
          "encoding": {
            "x": {"field": "t", "type": "temporal", "axis": {"orient": "top", "labels": false, "title": null, "values": [{"year": 2012, "month": 9, "date": 21}, {"year": 2012, "month": 9, "date": 26}, {"year": 2012, "month": 10, "date": 1}, {"year": 2012, "month": 10, "date": 6}, {"year": 2012, "month": 10, "date": 11}, {"year": 2012, "month": 10, "date": 16}]}},
            "y": {"field": "k", "type": "quantitative", "axis": {"orient": "right", "labels": false, "values": [-2, -1, 0, 1, 2], "title": "d)", "titleAngle": 0, "titleX": 16, "titleY": 31, "titleAlign": "left", "titleBaseline": "middle"}}
          }
        }
      ]
    },
    {
      "width": 980, "height": 151,
      "resolve": {"axis": {"x": "independent", "y": "independent"}},
      "layer": [
        {
          "mark": {"type": "line", "strokeWidth": 1.4, "clip": true, "invalid": "break-paths-show-domains"},
          "encoding": {
            "x": {"field": "t", "type": "temporal", "scale": {"domain": [{"year": 2012, "month": 9, "date": 17, "hours": 12}, {"year": 2012, "month": 10, "date": 19, "hours": 11, "minutes": 45}], "nice": false},
                  "axis": {"orient": "bottom", "labels": false, "title": null, "values": [{"year": 2012, "month": 9, "date": 21}, {"year": 2012, "month": 9, "date": 26}, {"year": 2012, "month": 10, "date": 1}, {"year": 2012, "month": 10, "date": 6}, {"year": 2012, "month": 10, "date": 11}, {"year": 2012, "month": 10, "date": 16}]}},
            "y": {"field": "a", "type": "quantitative", "scale": {"domain": [-2, 2], "nice": false, "zero": false},
                  "axis": {"values": [-2, -1, 0, 1, 2], "title": "(-)"}},
            "color": {"datum": "asymmetry", "scale": {"range": ["#0000ff"]}, "legend": {"title": null}}
          }
        },
        {
          "mark": {"type": "line", "opacity": 0, "invalid": "break-paths-show-domains"},
          "encoding": {
            "x": {"field": "t", "type": "temporal", "axis": {"orient": "top", "labels": false, "title": null, "values": [{"year": 2012, "month": 9, "date": 21}, {"year": 2012, "month": 9, "date": 26}, {"year": 2012, "month": 10, "date": 1}, {"year": 2012, "month": 10, "date": 6}, {"year": 2012, "month": 10, "date": 11}, {"year": 2012, "month": 10, "date": 16}]}},
            "y": {"field": "a", "type": "quantitative", "axis": {"orient": "right", "labels": false, "values": [-2, -1, 0, 1, 2], "title": "e)", "titleAngle": 0, "titleX": 16, "titleY": 31, "titleAlign": "left", "titleBaseline": "middle"}}
          }
        }
      ]
    },
    {
      "width": 980, "height": 151,
      "resolve": {"axis": {"x": "independent", "y": "independent"}},
      "layer": [
        {
          "mark": {"type": "line", "strokeWidth": 1.4, "clip": true, "invalid": "break-paths-show-domains"},
          "encoding": {
            "x": {"field": "t", "type": "temporal", "scale": {"domain": [{"year": 2012, "month": 9, "date": 17, "hours": 12}, {"year": 2012, "month": 10, "date": 19, "hours": 11, "minutes": 45}], "nice": false},
                  "axis": {"orient": "bottom", "format": "%m / %d", "title": "From: 09/17 12:00", "titleX": -74, "titleY": 57, "titleAlign": "left", "titleBaseline": "middle", "values": [{"year": 2012, "month": 9, "date": 21}, {"year": 2012, "month": 9, "date": 26}, {"year": 2012, "month": 10, "date": 1}, {"year": 2012, "month": 10, "date": 6}, {"year": 2012, "month": 10, "date": 11}, {"year": 2012, "month": 10, "date": 16}]}},
            "y": {"field": "m", "type": "quantitative", "scale": {"domain": [-5, 5], "nice": false, "zero": false},
                  "axis": {"values": [-5, 0, 5], "title": "(cm/min)"}},
            "color": {"datum": "migration", "scale": {"range": ["#0000ff"]}, "legend": {"title": null}}
          }
        },
        {
          "mark": {"type": "line", "opacity": 0, "invalid": "break-paths-show-domains"},
          "encoding": {
            "x": {"field": "t", "type": "temporal", "axis": {"orient": "top", "labels": false, "title": "To: 10/19 11:45", "titleX": 1003, "titleY": 208, "titleAlign": "right", "titleBaseline": "middle", "values": [{"year": 2012, "month": 9, "date": 21}, {"year": 2012, "month": 9, "date": 26}, {"year": 2012, "month": 10, "date": 1}, {"year": 2012, "month": 10, "date": 6}, {"year": 2012, "month": 10, "date": 11}, {"year": 2012, "month": 10, "date": 16}]}},
            "y": {"field": "m", "type": "quantitative", "axis": {"orient": "right", "labels": false, "values": [-5, 0, 5], "title": "f)", "titleAngle": 0, "titleX": 16, "titleY": 31, "titleAlign": "left", "titleBaseline": "middle"}}
          }
        }
      ]
    }
  ],
  "config": {
    "font": "Liberation Sans",
    "view": {"stroke": "#262626", "strokeWidth": 1},
    "axis": {
      "domain": false, "grid": false,
      "ticks": true, "tickSize": -10, "tickColor": "#262626", "tickWidth": 1,
      "labelFont": "Liberation Sans", "labelFontSize": 17, "labelColor": "#000", "labelPadding": 16, "labelFlush": false,
      "labelExpr": "'' + datum.value",
      "titleFont": "Liberation Sans", "titleFontSize": 17, "titleFontWeight": "normal", "titleColor": "#000"
    },
    "axisX": {"labelPadding": 20, "labelExpr": "datum.label"},
    "axisLeft": {"titleX": -68, "titleY": 75.5, "titleAlign": "center", "titleBaseline": "middle"},
    "legend": {
      "orient": "top-left", "offset": 10, "padding": 7,
      "strokeColor": "#262626", "fillColor": "white",
      "symbolType": "stroke", "symbolSize": 3844, "symbolStrokeWidth": 1, "symbolOffset": 7,
      "symbolStrokeColor": "#0000ff",
      "labelOffset": 5.5, "clipHeight": 17,
      "labelFont": "Liberation Sans", "labelFontSize": 17, "labelColor": "#000"
    }
  }
}
